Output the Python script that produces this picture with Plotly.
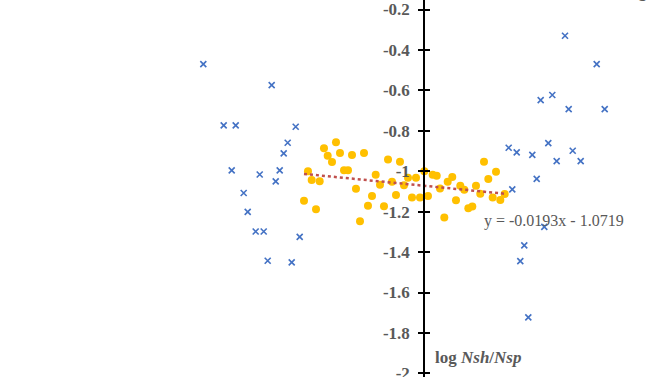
import plotly.graph_objects as go

# Series 1: blue crosses (outer points)
blue_x = [-5.587, -3.856, -5.071, -4.767, -3.248, -3.451, -3.552, -4.868, -4.159,
          -3.653, -3.754, -4.565, -4.463, -4.261, -4.058, -3.147, -3.957, -3.349,
          3.570, 4.372, 2.954, 3.248, 3.663, 4.575, 2.144, 2.347, 2.742, 3.147,
          3.359, 3.765, 3.967, 2.853, 2.235, 3.046, 2.539, 2.438, 2.641]
blue_y = [-0.470, -0.574, -0.773, -0.773, -0.780, -0.859, -0.912, -0.996, -1.016,
          -0.996, -1.050, -1.108, -1.201, -1.298, -1.298, -1.325, -1.443, -1.451,
          -0.330, -0.470, -0.648, -0.623, -0.693, -0.693, -0.884, -0.907, -0.919, -0.861,
          -0.950, -0.899, -0.950, -1.038, -1.090, -1.275, -1.367, -1.445, -1.723]

# Series 2: yellow circles (central cluster)
gold_x = [-2.228, -2.532, -2.438, -2.127, -1.823, -1.519, -2.329, -0.911, -0.608,
          -2.937, -2.025, -1.924, -2.843, -2.641, -1.223, -0.810, -1.114, -0.506,
          -0.405, -0.203, -1.722, -0.709, -1.316, -3.038, -2.734, -1.418, -1.013,
          -1.620, -0.304, -0.101, 0.008, 0.220, 0.322, 0.716, 0.600, 0.405, 0.919,
          1.020, 1.316, 1.425, 1.519, 1.823, 1.628, 2.043, 1.739, 1.932, 0.101,
          0.810, 1.122, 1.223, 0.514]
gold_y = [-0.857, -0.887, -0.924, -0.910, -0.920, -0.910, -0.955, -0.942, -0.953,
          -1.000, -0.995, -0.995, -1.043, -1.050, -1.018, -1.052, -1.067, -1.069,
          -1.032, -1.032, -1.087, -1.118, -1.123, -1.146, -1.188, -1.171, -1.173,
          -1.248, -1.130, -1.130, -1.000, -1.018, -1.023, -1.028, -1.052, -1.085, -1.072,
          -1.092, -1.072, -1.112, -0.953, -1.003, -1.039, -1.113, -1.130, -1.142, -1.122,
          -1.144, -1.183, -1.174, -1.229]

# Linear trend of the yellow series
slope = -0.0193
intercept = -1.0719
trend_x = [min(gold_x), max(gold_x)]
trend_y = [slope * v + intercept for v in trend_x]

y_ticks = [-2.0, -1.8, -1.6, -1.4, -1.2, -1.0, -0.8, -0.6, -0.4, -0.2]
y_labels = ["-2", "-1.8", "-1.6", "-1.4", "-1.2", "-1", "-0.8", "-0.6", "-0.4", "-0.2"]

W, H = 670, 377
X_RANGE = [-10.734, 6.228]
Y_RANGE = [-2.018, -0.153]
AXIS_POS = (0 - X_RANGE[0]) / (X_RANGE[1] - X_RANGE[0])

SERIF = "Liberation Serif"
GREY = "#595959"

fig = go.Figure()
fig.add_trace(go.Scatter(
    x=blue_x, y=blue_y, mode="markers",
    marker=dict(symbol="x-thin", size=6, line=dict(width=1.6, color="#4472C4"), color="#4472C4"),
    showlegend=False, hoverinfo="skip"))
fig.add_trace(go.Scatter(
    x=gold_x, y=gold_y, mode="markers",
    marker=dict(symbol="circle", size=8, color="#FFC000"),
    showlegend=False, hoverinfo="skip"))
fig.add_trace(go.Scatter(
    x=trend_x, y=trend_y, mode="lines",
    line=dict(color="#C0504D", width=2.5, dash="3px,3px"),
    showlegend=False, hoverinfo="skip"))
# helper trace so the inner-tick axis is rendered
fig.add_trace(go.Scatter(x=[None], y=[None], yaxis="y2", showlegend=False, hoverinfo="skip"))

fig.update_layout(
    width=W, height=H,
    margin=dict(l=0, r=0, t=0, b=0, autoexpand=False),
    paper_bgcolor="white", plot_bgcolor="white",
    font=dict(family=SERIF),
    xaxis=dict(range=X_RANGE, visible=False, showgrid=False, zeroline=False, automargin=False),
    yaxis=dict(
        range=Y_RANGE, anchor="free", position=AXIS_POS, automargin=False,
        showgrid=False, zeroline=False,
        showline=True, linecolor="black", linewidth=1.5,
        ticks="outside", ticklen=5, tickwidth=1.5, tickcolor="black",
        tickvals=y_ticks, ticktext=["<b>%s</b>" % t for t in y_labels],
        tickfont=dict(family=SERIF, size=17, color=GREY),
        ticklabelstandoff=5, ticklabeloverflow="allow",
    ),
    yaxis2=dict(
        range=Y_RANGE, overlaying="y", anchor="free", position=AXIS_POS, automargin=False,
        showgrid=False, zeroline=False, showline=False,
        ticks="inside", ticklen=5, tickwidth=1.5, tickcolor="black",
        tickvals=y_ticks, showticklabels=False, ticklabeloverflow="allow",
    ),
    annotations=[
        dict(text="<b>log <i>Nsh</i>/<i>Nsp</i></b>", xref="paper", yref="paper",
             x=433 / W, y=1 - 357 / H, xanchor="left", yanchor="middle", showarrow=False,
             font=dict(family=SERIF, size=17, color=GREY)),
        dict(text="y = -0.0193x - 1.0719", xref="paper", yref="paper",
             x=482 / W, y=1 - 221 / H, xanchor="left", yanchor="middle", showarrow=False,
             font=dict(family=SERIF, size=16, color=GREY)),
        dict(text="<b>log</b>", xref="paper", yref="paper",
             x=648 / W, y=1 - 3 / H, xanchor="right", yanchor="bottom", showarrow=False,
             font=dict(family=SERIF, size=16, color=GREY)),
    ],
)

fig.write_html("out.html")
